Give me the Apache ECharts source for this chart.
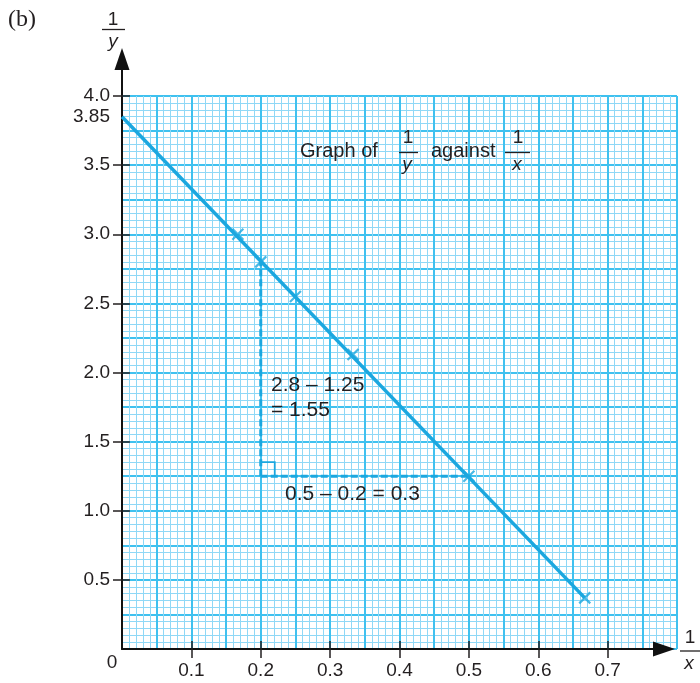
<!DOCTYPE html>
<html>
<head>
<meta charset="utf-8">
<script src="https://cdn.jsdelivr.net/npm/echarts@6/dist/echarts.min.js"></script>
<style>
  html, body { margin: 0; padding: 0; background: #ffffff; }
  #chart { width: 700px; height: 683px; }
</style>
</head>
<body>
<div id="chart"></div>
<script>
// Plotted points: 1/x against 1/y
const invX = [0.167, 0.2, 0.25, 0.333, 0.5, 0.667];
const invY = [3.0, 2.8, 2.55, 2.13, 1.25, 0.37];

// Straight line of best fit (intercept 3.85)
const fitX = [0, 0.667];
const fitY = [3.85, 0.37];

// Gradient triangle
const riseTop = 2.8;
const riseBottom = 1.25;
const runLeft = 0.2;
const runRight = 0.5;

// Axis ticks and labels
const xTicks = [0.1, 0.2, 0.3, 0.4, 0.5, 0.6, 0.7];
const yTicks = [0.5, 1.0, 1.5, 2.0, 2.5, 3.0, 3.5, 4.0];
const yExtraLabels = [3.85];

const INK = '#231f20';
const BLUE = '#1ba7df';
const MAJOR = '#3fc1ef';
const MINOR = '#8fd8f6';
const SANS = '"Liberation Sans", Arial, Helvetica, sans-serif';

const chart = echarts.init(document.getElementById('chart'), null, { renderer: 'canvas' });

function gridAxis(pos, max, interval) {
  return {
    type: 'value', gridIndex: 0, position: pos, offset: 0, min: 0, max: max, interval: interval,
    axisLine: { show: false }, axisTick: { show: false }, axisLabel: { show: false },
    splitLine: { show: true, showMinLine: true, showMaxLine: true, lineStyle: { color: MAJOR, width: 2 } },
    minorTick: { show: false, splitNumber: 5 },
    minorSplitLine: { show: true, lineStyle: { color: MINOR, width: 1 } },
    z: 0
  };
}

function labelAxis(pos, max, ticks, labels, fmt) {
  return {
    type: 'value', gridIndex: 0, position: pos, offset: 0, min: 0, max: max,
    axisLine: { show: false },
    axisTick: { show: true, customValues: ticks, length: 9, lineStyle: { color: INK, width: 1.5 } },
    axisLabel: {
      show: true, customValues: labels, formatter: fmt, margin: 12,
      color: INK, fontSize: 19, fontFamily: SANS
    },
    splitLine: { show: false }
  };
}

function innerTickAxis(pos, max, ticks) {
  return {
    type: 'value', gridIndex: 0, position: pos, offset: 0, min: 0, max: max,
    axisLine: { show: false },
    axisTick: { show: true, inside: true, customValues: ticks, length: 8, lineStyle: { color: INK, width: 1.5 } },
    axisLabel: { show: false },
    splitLine: { show: false }
  };
}

function arrowAxis(pos) {
  return {
    type: 'value', gridIndex: 1, position: pos, offset: 0, min: 0, max: 1,
    axisLine: {
      show: true, symbol: ['none', 'triangle'], symbolSize: [15, 22],
      lineStyle: { color: '#111111', width: 2 }
    },
    axisTick: { show: false }, axisLabel: { show: false }, splitLine: { show: false }
  };
}

const yFmt = v => (yExtraLabels.indexOf(v) >= 0 ? String(v) : v.toFixed(1));
const xFmt = v => v.toFixed(1);

function txt(text, x, y, size, opts) {
  opts = opts || {};
  return {
    type: 'text', silent: true, z: 100,
    style: {
      text: text, x: x, y: y,
      fill: INK,
      font: (opts.style || 'normal') + ' ' + size + 'px ' + (opts.family || SANS),
      textAlign: opts.align || 'left', align: opts.align || 'left',
      textVerticalAlign: 'middle', verticalAlign: 'middle'
    }
  };
}

function bar(x1, x2, y) {
  return {
    type: 'line', silent: true, z: 100,
    shape: { x1: x1, y1: y, x2: x2, y2: y },
    style: { stroke: INK, lineWidth: 1.3 }
  };
}

const option = {
  animation: false,
  backgroundColor: '#ffffff',
  grid: [
    { left: 122, top: 96, width: 555, height: 553, outerBoundsMode: 'none', containLabel: false },
    { left: 122, top: 59, right: 36, bottom: 34, outerBoundsMode: 'none', containLabel: false }
  ],
  xAxis: [
    gridAxis('bottom', 0.8, 0.05),
    labelAxis('bottom', 0.8, xTicks, xTicks, xFmt),
    innerTickAxis('bottom', 0.8, xTicks),
    arrowAxis('bottom')
  ],
  yAxis: [
    gridAxis('left', 4, 0.25),
    labelAxis('left', 4, yTicks, yTicks.concat(yExtraLabels), yFmt),
    innerTickAxis('left', 4, yTicks),
    arrowAxis('left')
  ],
  series: [
    {
      name: 'fit', type: 'line', xAxisIndex: 0, yAxisIndex: 0,
      data: fitX.map((x, i) => [x, fitY[i]]),
      symbol: 'none', lineStyle: { color: BLUE, width: 3.5 }, z: 5
    },
    {
      name: 'points', type: 'scatter', xAxisIndex: 0, yAxisIndex: 0,
      data: invX.map((x, i) => [x, invY[i]]),
      symbol: 'path://M0,0L10,10M10,0L0,10', symbolSize: 11,
      itemStyle: { color: 'transparent', borderColor: BLUE, borderWidth: 2.2 },
      z: 6
    },
    {
      name: 'rise', type: 'line', xAxisIndex: 0, yAxisIndex: 0,
      data: [[runLeft, riseBottom], [runLeft, riseTop]],
      symbol: 'none', lineStyle: { color: BLUE, width: 3, type: [7, 3] }, z: 4
    },
    {
      name: 'run', type: 'line', xAxisIndex: 0, yAxisIndex: 0,
      data: [[runLeft, riseBottom], [runRight, riseBottom]],
      symbol: 'none', lineStyle: { color: BLUE, width: 3, type: [7, 3] }, z: 4
    },
    {
      name: 'right angle', type: 'custom', xAxisIndex: 0, yAxisIndex: 0,
      data: [[runLeft, riseBottom]],
      renderItem: function (params, api) {
        const p = api.coord([api.value(0), api.value(1)]);
        const s = 14;
        return {
          type: 'polyline',
          shape: { points: [[p[0], p[1] - s], [p[0] + s, p[1] - s], [p[0] + s, p[1]]] },
          style: { stroke: BLUE, lineWidth: 1.8, fill: null }
        };
      },
      z: 4
    }
  ],
  graphic: [
    txt('(b)', 8, 20, 24, { family: '"Liberation Serif", "Times New Roman", serif' }),
    // vertical axis name 1/y
    txt('1', 113, 20, 19, { align: 'center' }),
    bar(102, 125, 29.5),
    txt('y', 113, 42, 19, { align: 'center', style: 'italic' }),
    // horizontal axis name 1/x
    txt('1', 690, 638, 19, { align: 'center' }),
    bar(680, 700, 651),
    txt('x', 689, 664, 19, { align: 'center', style: 'italic' }),
    // chart title
    txt('Graph of', 300, 151, 20),
    txt('1', 408, 138, 19, { align: 'center' }),
    bar(399, 418, 152.5),
    txt('y', 407, 165, 19, { align: 'center', style: 'italic' }),
    txt('against', 431, 151, 20),
    txt('1', 518, 138, 19, { align: 'center' }),
    bar(505, 530, 152.5),
    txt('x', 517, 165, 19, { align: 'center', style: 'italic' }),
    // gradient working
    txt('2.8 \u2013 1.25', 271, 385, 21),
    txt('= 1.55', 271, 410, 21),
    txt('0.5 \u2013 0.2 = 0.3', 285, 494, 21),
    // origin
    txt('0', 112, 663, 19, { align: 'center' })
  ]
};

chart.setOption(option);
</script>
</body>
</html>
